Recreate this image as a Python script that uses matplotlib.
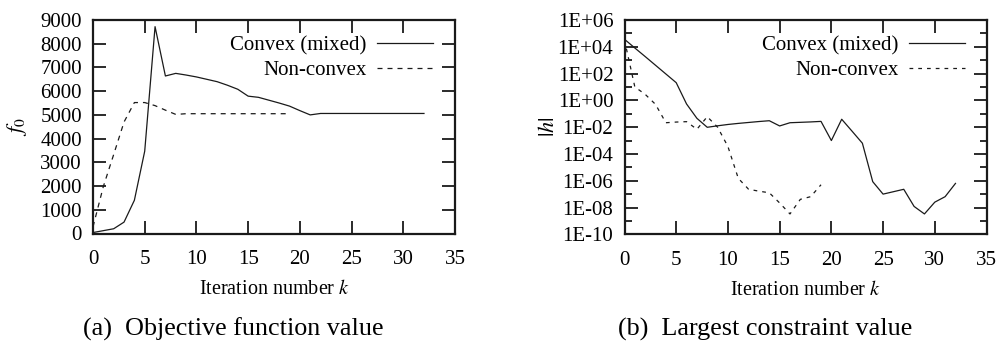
import numpy as np
import matplotlib
matplotlib.use("Agg")
import matplotlib.pyplot as plt
from matplotlib.ticker import FixedLocator, NullFormatter

plt.rcParams['font.family'] = ['Liberation Serif', 'DejaVu Serif']
plt.rcParams['mathtext.fontset'] = 'stix'

# Objective function value per iteration
k_convex = list(range(0, 33))
f0_convex = [40, 120, 200, 480, 1400, 3470, 8720, 6640, 6750, 6680,
             6600, 6500, 6400, 6250, 6080, 5790, 5740, 5620, 5500, 5370,
             5180, 5000, 5060, 5060, 5060, 5060, 5060, 5060, 5060, 5060,
             5060, 5060, 5060]
k_nonconvex = list(range(0, 20))
f0_nonconvex = [280, 1980, 3330, 4700, 5520, 5520, 5390, 5200, 5020, 5050,
                5050, 5050, 5050, 5050, 5050, 5050, 5050, 5050, 5050, 5050]

# Largest constraint value (log10 of |h|)
logh_convex = [4.56, 3.91, 3.27, 2.62, 1.97, 1.32, -0.27, -1.34, -2.01, -1.90,
               -1.80, -1.72, -1.65, -1.58, -1.52, -1.91, -1.67, -1.64, -1.61, -1.57,
               -3.00, -1.41, -2.30, -3.20, -6.07, -7.00, -6.82, -6.64, -7.92, -8.48,
               -7.60, -7.19, -6.20]
logh_nonconvex = [4.50, 1.00, 0.45, -0.30, -1.67, -1.62, -1.59, -2.16, -1.22, -2.00,
                  -3.45, -5.82, -6.64, -6.78, -6.90, -7.66, -8.48, -7.39, -7.19, -6.30]

x_ticks = [0, 5, 10, 15, 20, 25, 30, 35]
f0_ticks = [0, 1000, 2000, 3000, 4000, 5000, 6000, 7000, 8000, 9000]
h_exponents = [-10, -8, -6, -4, -2, 0, 2, 4, 6]
h_ticklabels = ['1E-10', '1E-08', '1E-06', '1E-04', '1E-02',
                '1E+00', '1E+02', '1E+04', '1E+06']

FS = 15
LINE = '#1a1a1a'

fig = plt.figure(figsize=(9.99, 3.42), dpi=100)
W, H = 999, 342
ax1 = fig.add_axes([93 / W, 1 - 233.5 / H, 362 / W, 213.5 / H])
ax2 = fig.add_axes([624.5 / W, 1 - 234.3 / H, 362 / W, 214.3 / H])

for ax in (ax1, ax2):
    for s in ax.spines.values():
        s.set_linewidth(1.6)
        s.set_color('#1a1a1a')
    ax.tick_params(which='major', direction='in', length=9.5, width=1.3,
                   top=True, right=True, labelsize=FS, color='#1a1a1a')
    ax.tick_params(which='minor', direction='in', length=5, width=1.3,
                   top=True, right=True, color='#1a1a1a')
    ax.tick_params(axis='x', which='major', pad=12)
    ax.tick_params(axis='y', which='major', pad=8)
    ax.set_xlim(0, 35)
    ax.set_xticks(x_ticks)
    ax.set_xlabel(r'Iteration number $k$', fontsize=14.5, labelpad=8)

ax1.plot(k_convex, f0_convex, color=LINE, lw=0.9, label='Convex (mixed)')
ax1.plot(k_nonconvex, f0_nonconvex, color=LINE, lw=0.9, dashes=(4, 4),
         label='Non-convex')
ax1.set_ylim(0, 9000)
ax1.set_yticks(f0_ticks)
ax1.set_ylabel(r'$f_0$', fontsize=FS + 1, labelpad=8)

ax2.plot(k_convex, 10.0 ** np.array(logh_convex), color=LINE, lw=0.9,
         label='Convex (mixed)')
ax2.plot(k_nonconvex, 10.0 ** np.array(logh_nonconvex), color=LINE, lw=0.9,
         dashes=(3, 4), label='Non-convex')
ax2.set_yscale('log')
ax2.set_ylim(1e-10, 1e6)
ax2.yaxis.set_major_locator(FixedLocator([10.0 ** e for e in h_exponents]))
ax2.set_yticklabels(h_ticklabels)
ax2.yaxis.set_minor_locator(FixedLocator([10.0 ** e for e in range(-9, 6, 2)]))
ax2.yaxis.set_minor_formatter(NullFormatter())
ax2.set_ylabel(r'$|h|$', fontsize=FS + 1, labelpad=-1)

for ax in (ax1, ax2):
    leg = ax.legend(loc='upper right', frameon=False, fontsize=FS,
                    markerfirst=False, handlelength=2.7, handletextpad=0.5,
                    labelspacing=0.25, borderaxespad=0.2,
                    bbox_to_anchor=(0.975, 0.985))
    for t in leg.get_texts():
        t.set_ha('right')

fig.text(233 / W, 1 - 329 / H, '(a)  Objective function value',
         ha='center', va='center', fontsize=18.8)
fig.text(765 / W, 1 - 329 / H, '(b)  Largest constraint value',
         ha='center', va='center', fontsize=18.8)

fig.savefig('out.png', dpi=100)
